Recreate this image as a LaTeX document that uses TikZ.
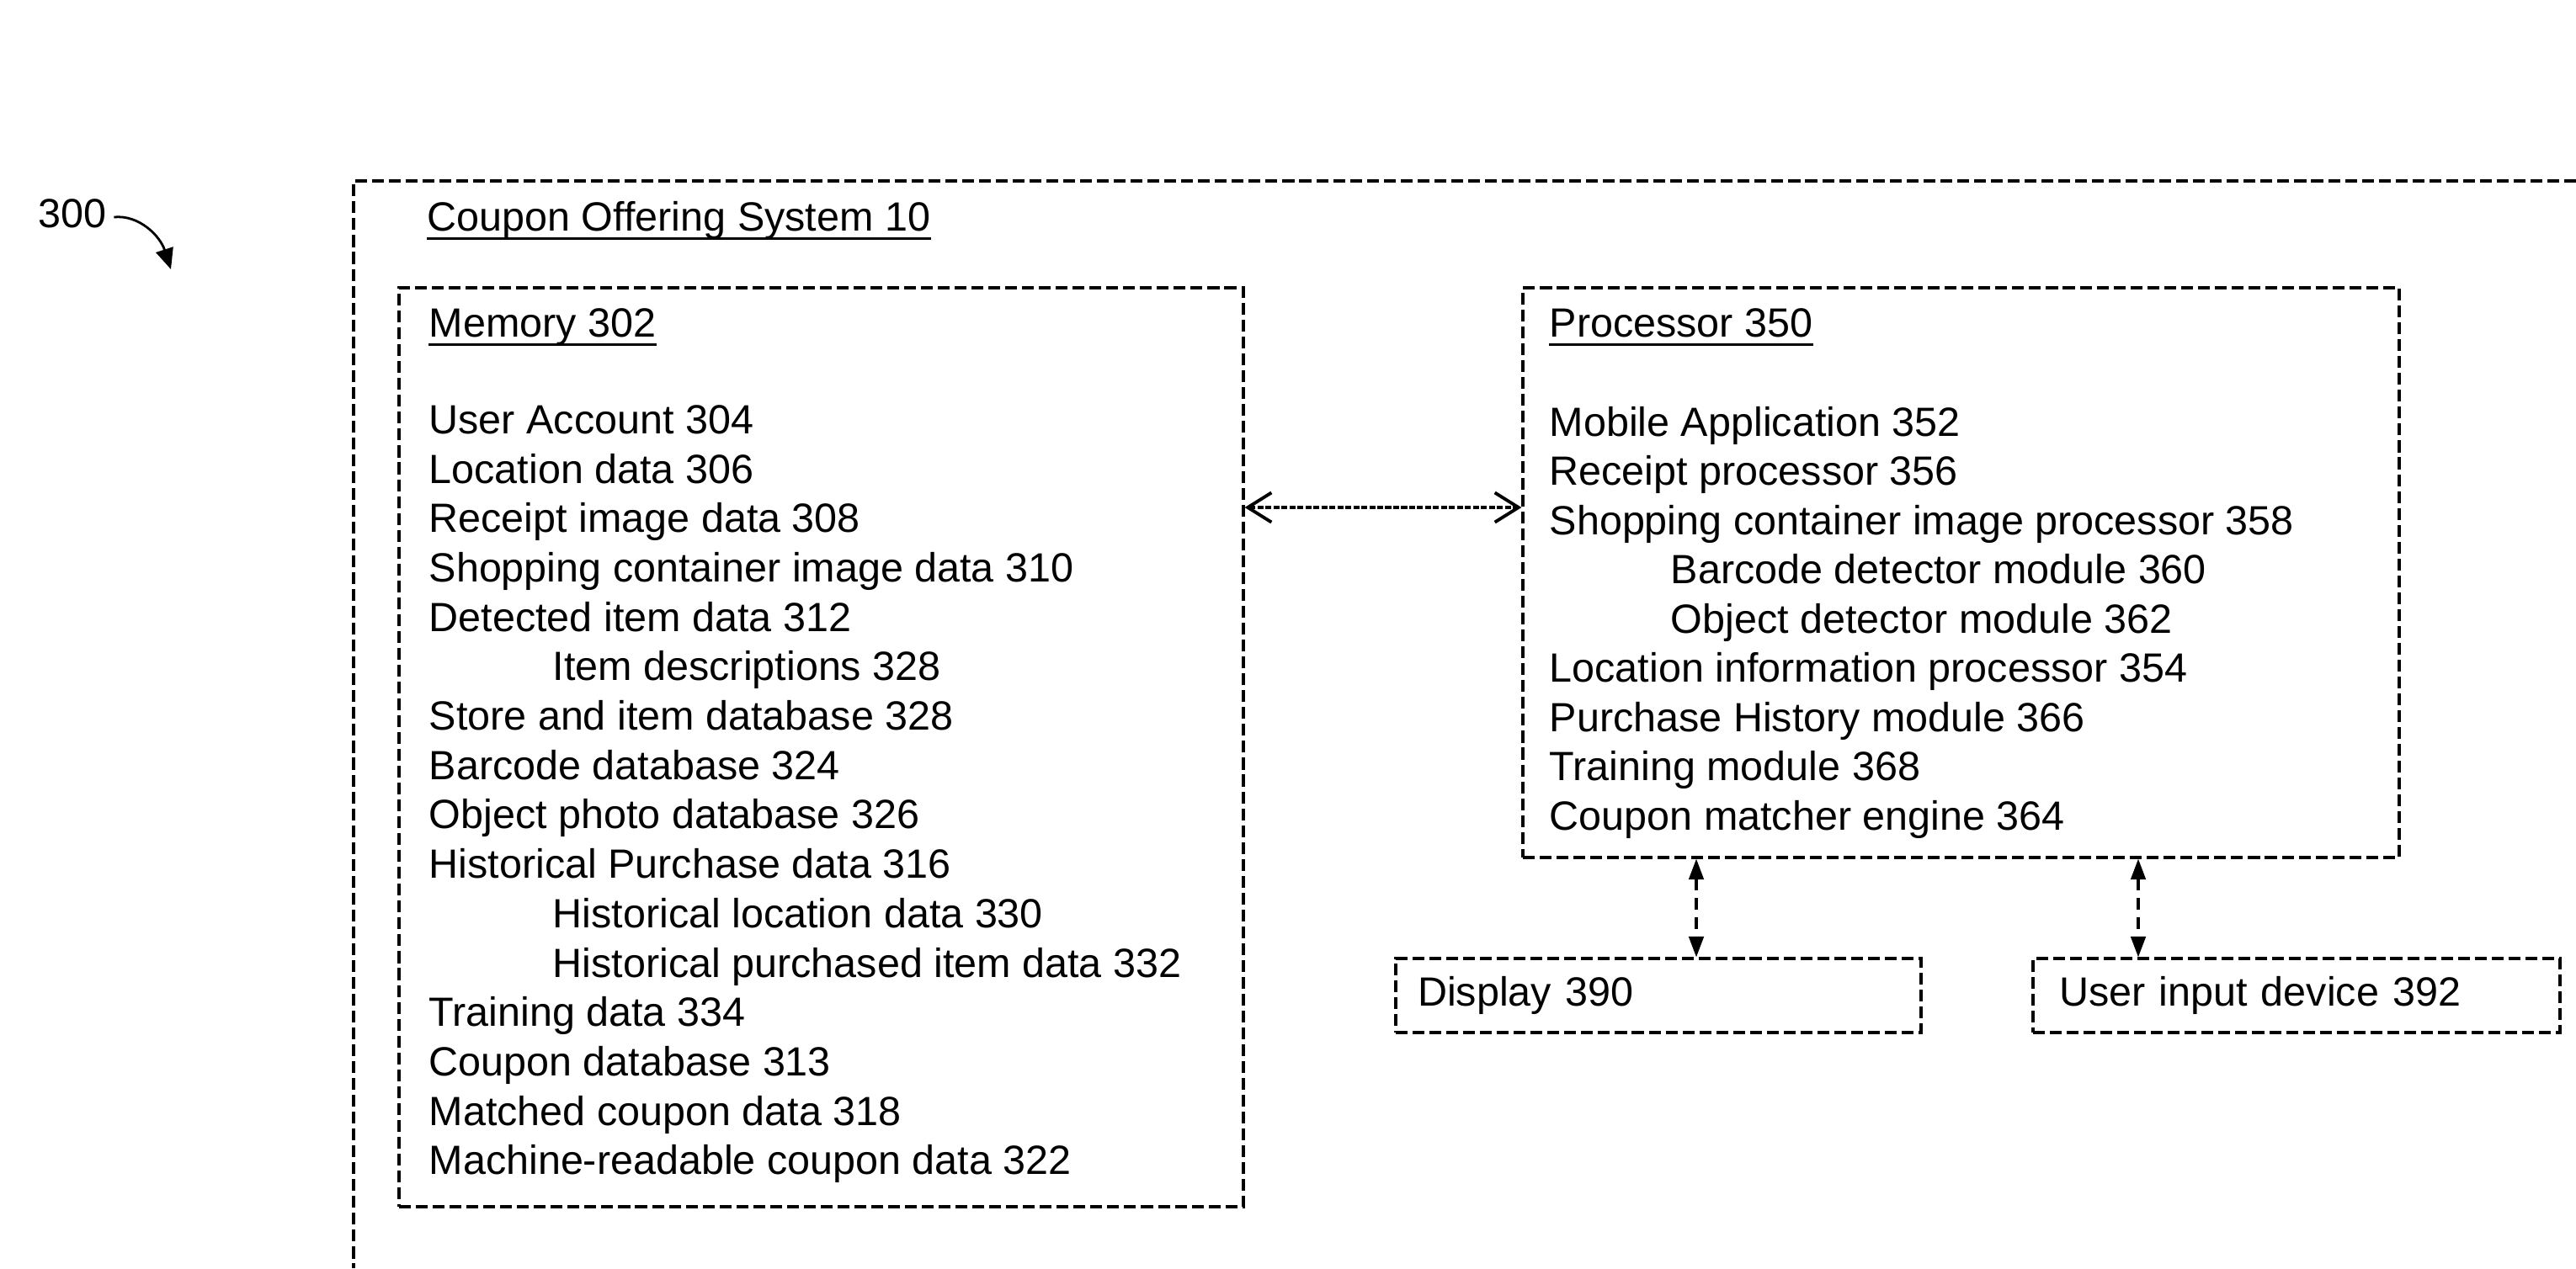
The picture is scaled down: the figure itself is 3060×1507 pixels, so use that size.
\documentclass[tikz,border=0pt]{standalone}
\usepackage{fontspec}
\setmainfont{Liberation Sans}
\usetikzlibrary{arrows.meta}
\newcommand\dfont{\fontsize{13.8}{16}\selectfont}
\tikzset{
  txt/.style={anchor=west, inner sep=0pt, font=\dfont, text height=10pt, text depth=3pt},
  boxline/.style={draw, line width=0.9pt, dash pattern=on 4pt off 1.7pt},
  dbox/.style={boxline, inner sep=0pt},
  hbox/.style={boxline, inner ysep=0pt, align=left, font=\dfont, text height=10pt, text depth=3pt},
  uline/.style={line width=0.8pt},
  harrow/.style={line width=1.1pt, dash pattern=on 2pt off 0.7pt, {Straight Barb[length=8pt,width=10pt]}-{Straight Barb[length=8pt,width=10pt]}},
  varrow/.style={line width=0.9pt, dash pattern=on 4pt off 2.5pt, {Triangle[length=7pt,width=5pt]}-{Triangle[length=7pt,width=5pt]}},
}
\begin{document}
\begin{tikzpicture}[x=0.1mm,y=-0.1mm]
\useasboundingbox (0,0) rectangle (3060,1507);

% figure label
\node[txt] (l300) at (45,258) {300};
\coordinate (t300) at (203,320);
\draw[line width=0.8pt, -{Triangle[length=7pt,width=6pt]}] (l300.east) ++(8,0) .. controls (165,255) and (190,280) .. (t300);

% outer system box (extends beyond the figure)
\coordinate (sysTL) at (420,215);
\draw[boxline] (3060,215) -- (sysTL) -- (420,1507);
\node[txt] (systitle) at (507,262) {Coupon Offering System 10};
\draw[uline] ([yshift=-2.5pt]systitle.base west) -- ([yshift=-2.5pt]systitle.base east);

% memory box
\node[dbox, minimum width=100.3mm, minimum height=109.2mm] (mem) at (975.5,888) {};
\node[txt] (memtitle) at (509,388) {Memory 302};
\draw[uline] ([yshift=-2.5pt]memtitle.base west) -- ([yshift=-2.5pt]memtitle.base east);
\node[txt] (m0)  at (509,503)   {User Account 304};
\node[txt] (m1)  at (509,561.7) {Location data 306};
\node[txt] (m2)  at (509,620.4) {Receipt image data 308};
\node[txt] (m3)  at (509,679.1) {Shopping container image data 310};
\node[txt] (m4)  at (509,737.8) {Detected item data 312};
\node[txt] (m5)  at (656,796.5) {Item descriptions 328};
\node[txt] (m6)  at (509,855.2) {Store and item database 328};
\node[txt] (m7)  at (509,913.9) {Barcode database 324};
\node[txt] (m8)  at (509,972.6) {Object photo database 326};
\node[txt] (m9)  at (509,1031.3) {Historical Purchase data 316};
\node[txt] (m10) at (656,1090)  {Historical location data 330};
\node[txt] (m11) at (656,1148.7) {Historical purchased item data 332};
\node[txt] (m12) at (509,1207.4) {Training data 334};
\node[txt] (m13) at (509,1266.1) {Coupon database 313};
\node[txt] (m14) at (509,1324.8) {Matched coupon data 318};
\node[txt] (m15) at (509,1383.5) {Machine-readable coupon data 322};

% processor box
\node[dbox, minimum width=104.1mm, minimum height=67.7mm] (proc) at (2329.5,680.5) {};
\node[txt] (proctitle) at (1840,388) {Processor 350};
\draw[uline] ([yshift=-2.5pt]proctitle.base west) -- ([yshift=-2.5pt]proctitle.base east);
\node[txt] (p0) at (1840,506)   {Mobile Application 352};
\node[txt] (p1) at (1840,564.5) {Receipt processor 356};
\node[txt] (p2) at (1840,623)   {Shopping container image processor 358};
\node[txt] (p3) at (1984,681.5) {Barcode detector module 360};
\node[txt] (p4) at (1984,740)   {Object detector module 362};
\node[txt] (p5) at (1840,798.5) {Location information processor 354};
\node[txt] (p6) at (1840,857)   {Purchase History module 366};
\node[txt] (p7) at (1840,915.5) {Training module 368};
\node[txt] (p8) at (1840,974)   {Coupon matcher engine 364};

% peripheral boxes
\node[hbox, minimum width=62.4mm, minimum height=8.8mm, inner xsep=2.6mm, text width=57.2mm] (disp) at (1970,1183) {Display 390};
\node[hbox, minimum width=62.6mm, minimum height=8.8mm, inner xsep=3.1mm, text width=56.4mm] (uin) at (2728,1183) {User input device 392};

% connectors
\coordinate (hy) at (0,603);
\draw[harrow] (mem.east |- hy) -- (proc.west |- hy);
\coordinate (ax1) at (2015,0);
\coordinate (ax2) at (2540,0);
\draw[varrow] (proc.south -| ax1) -- (disp.north -| ax1);
\draw[varrow] (proc.south -| ax2) -- (uin.north -| ax2);
\end{tikzpicture}
\end{document}
